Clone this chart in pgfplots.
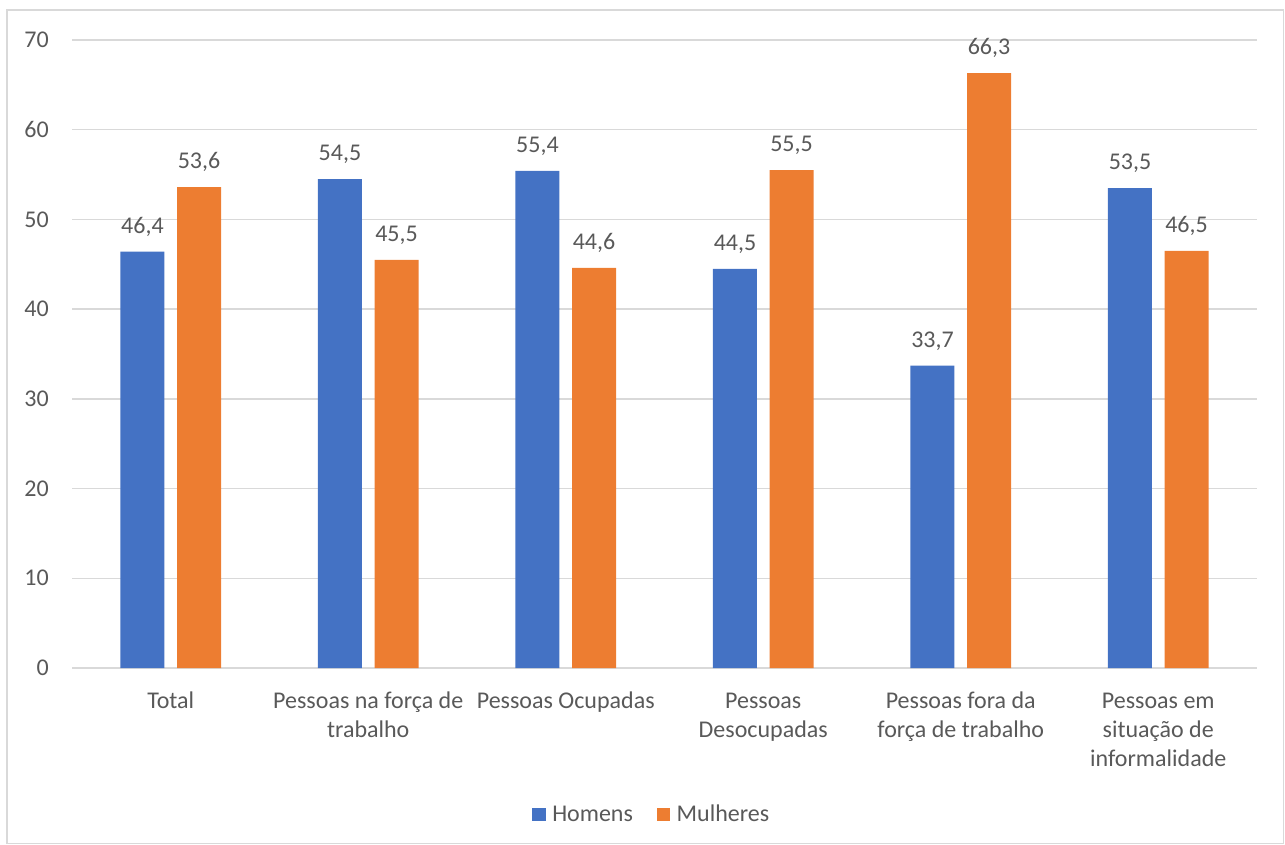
\documentclass[border=0pt]{standalone}
\usepackage{fontspec}
\setmainfont{Carlito}
\usepackage{pgfplots}
\pgfplotsset{compat=1.18}
\definecolor{cblue}{HTML}{4472C4}
\definecolor{corange}{HTML}{ED7D31}
\definecolor{cgrid}{HTML}{D9D9D9}
\definecolor{ctext}{HTML}{595959}
\begin{document}
\begin{tikzpicture}
\path[use as bounding box] (0pt,0pt) rectangle (963.75pt,-633.75pt);
\draw[cgrid, line width=1.4pt] (5.25pt,-7.5pt) rectangle (962.6pt,-632.6pt);
\begin{axis}[
  at={(54pt,-501pt)}, anchor=south west,
  scale only axis, width=888.75pt, height=471pt,
  xmin=-0.5, xmax=5.5, ymin=0, ymax=70,
  ytick={0,10,...,70},
  xtick={0,1,2,3,4,5},
  xticklabels={{\strut Total},{\strut Pessoas na força de\\trabalho},{\strut Pessoas Ocupadas},{\strut Pessoas\\Desocupadas},{\strut Pessoas fora da\\força de trabalho},{\strut Pessoas em\\situação de\\informalidade}},
  axis line style={draw=none},
  tick style={draw=none},
  major tick length=0pt,
  ymajorgrids, grid style={cgrid, line width=1pt},
  /pgf/number format/assume math mode=true,
  yticklabel style={font=\fontsize{18}{21}\selectfont, text=ctext, anchor=east, inner sep=0pt, xshift=-17.25pt},
  xticklabel style={font=\fontsize{18}{21.75}\selectfont, text=ctext, anchor=north, inner sep=0pt, align=center, yshift=-14.8pt},
  ybar=9.4pt, bar width=33pt,
  nodes near coords,
  nodes near coords style={/pgf/number format/use comma, /pgf/number format/fixed, /pgf/number format/fixed zerofill, /pgf/number format/precision=1, /pgf/number format/assume math mode=true},
  every node near coord/.append style={font=\fontsize{18}{21}\selectfont, text=ctext, anchor=base, inner sep=0pt, yshift=13.9pt},
  legend columns=2,
  legend cell align=left,
  legend style={at={(0.4884,-0.232)}, anchor=center, draw=none, fill=none, inner sep=0pt,
    font=\fontsize{18}{21}\selectfont, text=ctext,
    nodes={inner sep=0pt},
    cells={anchor=base west},
    /tikz/every odd column/.append style={column sep=5pt},
    /tikz/every even column/.append style={column sep=17.8pt}},
  legend image code/.code={\fill[#1] (0pt,0pt) rectangle (10pt,10pt);},
]
\addplot[fill=cblue, draw=none] coordinates {(0,46.4) (1,54.5) (2,55.4) (3,44.5) (4,33.7) (5,53.5)};
\addplot[fill=corange, draw=none] coordinates {(0,53.6) (1,45.5) (2,44.6) (3,55.5) (4,66.3) (5,46.5)};
\legend{Homens, Mulheres}
\end{axis}
\end{tikzpicture}
\end{document}
